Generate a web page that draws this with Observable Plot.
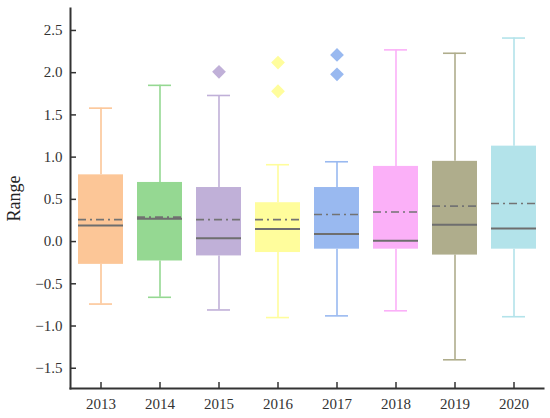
<!DOCTYPE html>
<html>
<head>
<meta charset="utf-8">
<script src="https://cdn.jsdelivr.net/npm/d3@7"></script>
<script src="https://cdn.jsdelivr.net/npm/@observablehq/plot@0.6"></script>
<style>
  html, body { margin: 0; padding: 0; background: #fff; }
  #chart svg { display: block; }
</style>
</head>
<body>
<div id="chart"></div>
<script>
const years = ["2013", "2014", "2015", "2016", "2017", "2018", "2019", "2020"];
const whiskerLow = [-0.74, -0.66, -0.81, -0.90, -0.88, -0.82, -1.40, -0.89];
const q1 = [-0.27, -0.23, -0.17, -0.13, -0.09, -0.09, -0.16, -0.09];
const median = [0.19, 0.27, 0.04, 0.15, 0.09, 0.01, 0.20, 0.155];
const mean = [0.26, 0.29, 0.26, 0.26, 0.32, 0.35, 0.42, 0.45];
const q3 = [0.79, 0.70, 0.64, 0.46, 0.64, 0.89, 0.95, 1.13];
const whiskerHigh = [1.58, 1.85, 1.73, 0.91, 0.945, 2.27, 2.23, 2.41];
const colors = ["#fcc697", "#95d892", "#c0b0d8", "#fffd9c", "#99b9f0", "#fbb0f8", "#afad8c", "#b3e3ea"];
const outlierYears = ["2015", "2016", "2016", "2017", "2017"];
const outlierValues = [2.01, 2.12, 1.78, 2.21, 1.98];
const yTicks = [-1.5, -1.0, -0.5, 0.0, 0.5, 1.0, 1.5, 2.0, 2.5];

const rows = years.map((year, i) => ({
  year, lo: whiskerLow[i], q1: q1[i], med: median[i], mean: mean[i],
  q3: q3[i], hi: whiskerHigh[i], color: colors[i]
}));
const outliers = outlierYears.map((year, i) => ({
  year, value: outlierValues[i], color: colors[years.indexOf(year)]
}));

const font = "'Liberation Serif', 'DejaVu Serif', serif";

const chart = Plot.plot({
  width: 550,
  height: 418,
  marginLeft: 70,
  marginRight: 7,
  marginTop: 8,
  marginBottom: 30,
  style: { fontFamily: font, background: "#fff", color: "#333" },
  x: { type: "band", domain: years, padding: 0 },
  y: { domain: [-1.74, 2.76] },
  color: { type: "identity" },
  marks: [
    Plot.frame({ anchor: "left", stroke: "#333", strokeWidth: 2 }),
    Plot.frame({ anchor: "bottom", stroke: "#333", strokeWidth: 2 }),
    Plot.axisY(yTicks, {
      anchor: "left", tickSize: -6, tickPadding: 14, tickFormat: d => d.toFixed(1).replace("-", "\u2212"),
      fontSize: 15, fontFamily: font, stroke: "#333", fill: "#333", strokeWidth: 1.5, label: null
    }),
    Plot.axisY({
      anchor: "left", ticks: [], label: "Range", labelAnchor: "center", labelOffset: 63, labelArrow: false,
      fontSize: 18, fontFamily: font, fill: "#222"
    }),
    Plot.axisX({
      anchor: "bottom", tickSize: -6, tickPadding: 16, fontSize: 15, fontFamily: font, stroke: "#333", fill: "#333", strokeWidth: 1.5, label: null
    }),
    Plot.ruleX(rows, { x: "year", y1: "q3", y2: "hi", stroke: "color", strokeWidth: 1.6 }),
    Plot.ruleX(rows, { x: "year", y1: "lo", y2: "q1", stroke: "color", strokeWidth: 1.6 }),
    Plot.tickY(rows, { x: "year", y: "hi", stroke: "color", strokeWidth: 1.6, insetLeft: 18, insetRight: 18 }),
    Plot.tickY(rows, { x: "year", y: "lo", stroke: "color", strokeWidth: 1.6, insetLeft: 18, insetRight: 18 }),
    Plot.rectY(rows, { x: "year", y1: "q1", y2: "q3", fill: "color", insetLeft: 7, insetRight: 7 }),
    Plot.tickY(rows, { x: "year", y: "mean", stroke: "#737373", strokeWidth: 1.6, strokeDasharray: "8,4,2,4", insetLeft: 7, insetRight: 7 }),
    Plot.tickY(rows, { x: "year", y: "med", stroke: "#6e6e6e", strokeWidth: 2, insetLeft: 7, insetRight: 7 }),
    Plot.dot(outliers, { x: "year", y: "value", fill: "color", symbol: "diamond2", r: 6.2, stroke: null })
  ]
});
document.getElementById("chart").append(chart);
</script>
</body>
</html>
